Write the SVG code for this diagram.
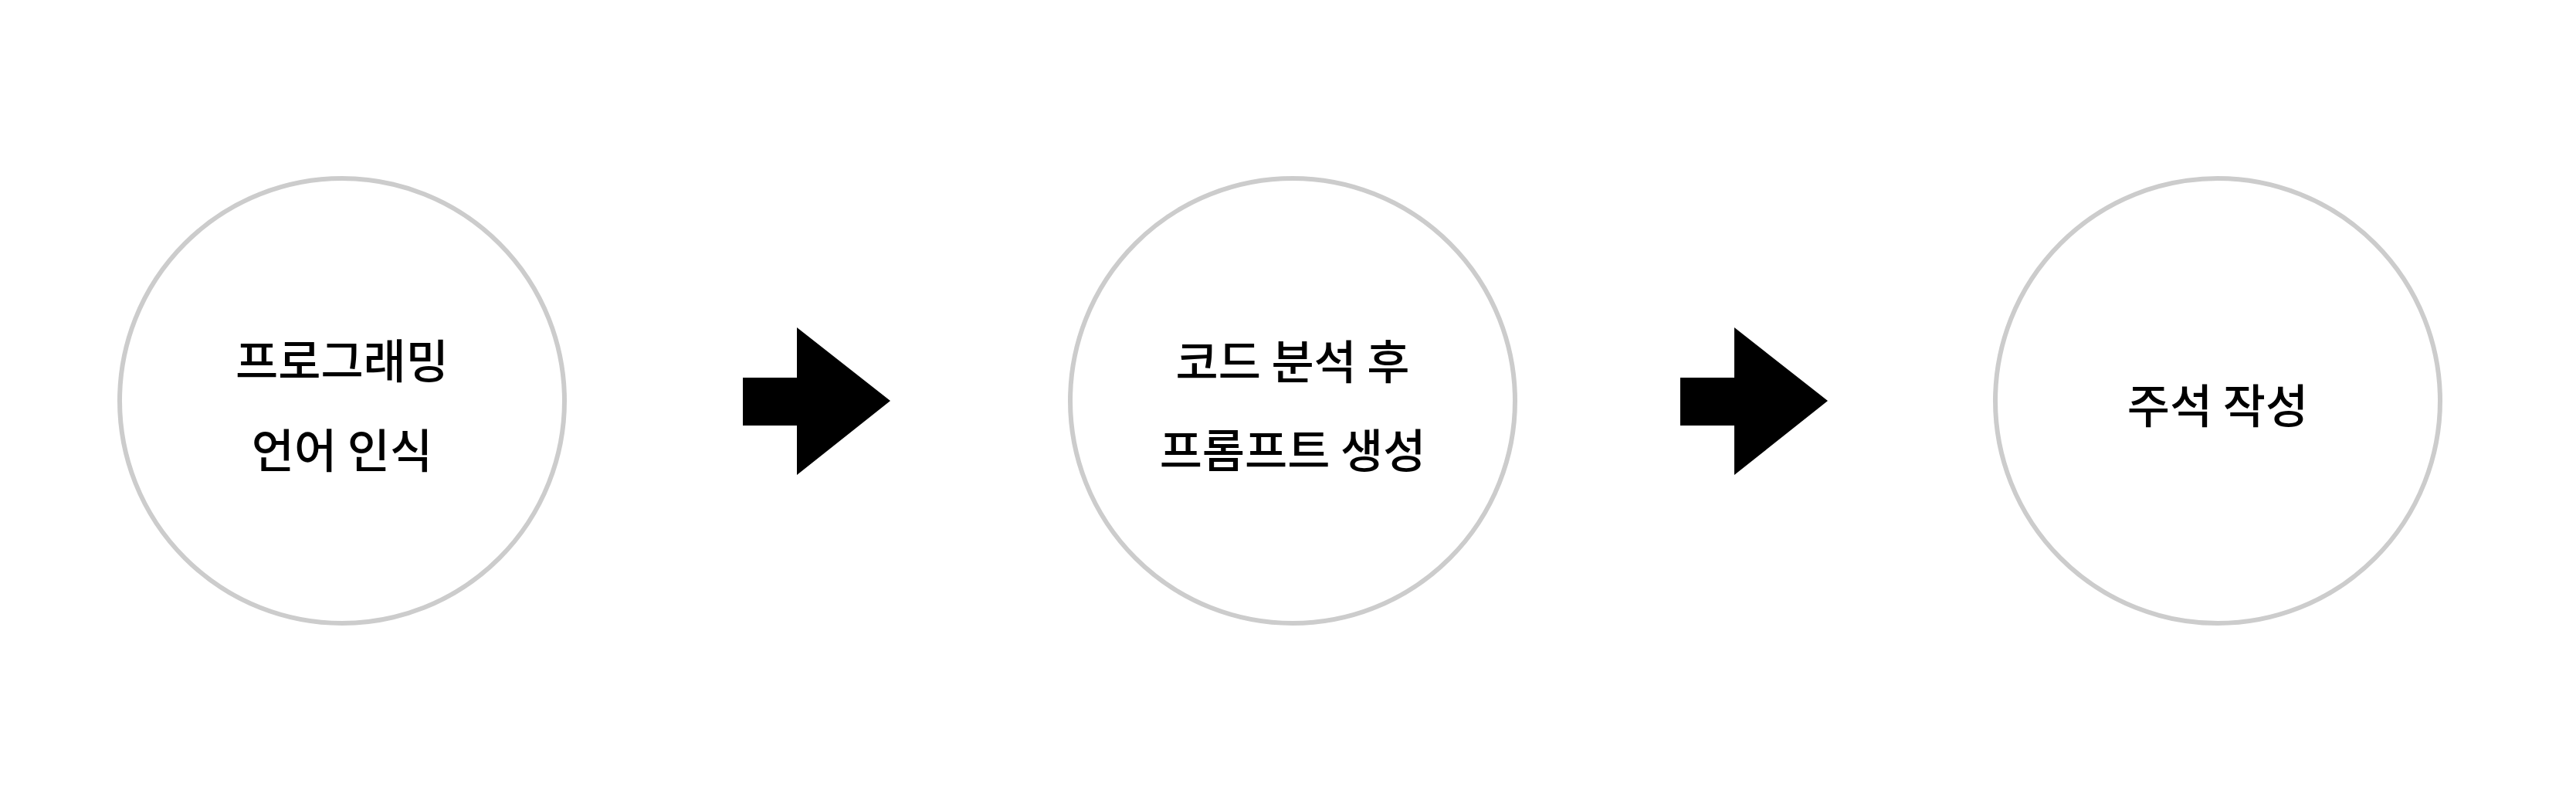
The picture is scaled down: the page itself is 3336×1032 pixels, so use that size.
<svg xmlns="http://www.w3.org/2000/svg" width="3336" height="1032" viewBox="0 0 3336 1032">
<style>
.node circle{fill:#fff;stroke:#cccccc;stroke-width:6}
.node text{font-family:"Noto Sans CJK KR","Noto Sans",sans-serif;font-size:60px;font-weight:500;fill:#000;text-anchor:middle}
.arrow{fill:#000}
</style>
<rect x="0" y="0" width="3336" height="1032" fill="#fff"/>
<g id="node-1" class="node">
<circle cx="443" cy="519" r="288"/>
<text x="443" y="490">프로그래밍</text>
<text x="443" y="606">언어 인식</text>
</g>
<g id="node-2" class="node">
<circle cx="1674" cy="519" r="288"/>
<text x="1674" y="491">코드 분석 후</text>
<text x="1674" y="606">프롬프트 생성</text>
</g>
<g id="node-3" class="node">
<circle cx="2872" cy="519" r="288"/>
<text x="2872" y="548">주석 작성</text>
</g>
<g id="connectors">
<polygon class="arrow" points="962,489 1032,489 1032,424 1153,519 1032,615 1032,551 962,551"/>
<polygon class="arrow" points="2176,489 2246,489 2246,424 2367,519 2246,615 2246,551 2176,551"/>
</g>
</svg>
